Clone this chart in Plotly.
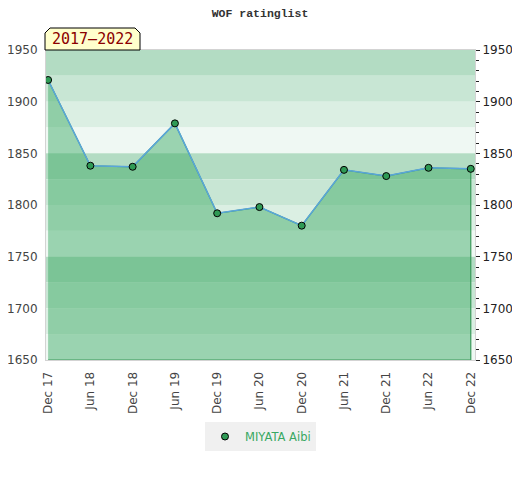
import plotly.graph_objects as go

categories = ["Dec 17", "Jun 18", "Dec 18", "Jun 19", "Dec 19", "Jun 20",
              "Dec 20", "Jun 21", "Dec 21", "Jun 22", "Dec 22"]
ratings = [1921, 1838, 1837, 1879, 1792, 1798, 1780, 1834, 1828, 1836, 1835]
player = "MIYATA Aibi"
period = "2017\u20132022"
title = "WOF ratinglist"

y_min, y_max = 1650, 1950
band_step = 25
band_colors = ["#b3dcc3", "#c8e6d4", "#dbefe3", "#eff8f3"]

fig = go.Figure()

# background bands
shapes = []
n_bands = (y_max - y_min) // band_step
for i in range(n_bands):
    top = y_max - i * band_step
    shapes.append(dict(type="rect", xref="paper", yref="y", x0=0, x1=1,
                       y0=top - band_step, y1=top, layer="below",
                       line=dict(width=0), fillcolor=band_colors[i % 4]))

# fill polygon
fx = categories + [categories[-1], categories[0]]
fy = ratings + [y_min, y_min]
fig.add_trace(go.Scatter(x=fx, y=fy, mode="lines", fill="toself",
                         fillcolor="rgba(59,169,99,0.47)",
                         line=dict(color="#3a9a5a", width=1.2),
                         showlegend=False, hoverinfo="skip"))
fig.add_trace(go.Scatter(x=categories, y=ratings, mode="lines",
                         line=dict(color="#5aa5dc", width=1.5),
                         showlegend=False, hoverinfo="skip"))
fig.add_trace(go.Scatter(x=categories, y=ratings, mode="markers",
                         name=player,
                         marker=dict(size=7, color="#2f9a55",
                                     line=dict(color="black", width=1))))
# invisible trace for right axis
fig.add_trace(go.Scatter(x=categories, y=ratings, yaxis="y2", mode="lines",
                         line=dict(width=0), showlegend=False, hoverinfo="skip",
                         opacity=0))

# label box
W, H = 429.0, 310.0
x0, x1 = -1 / W, 94 / W
y0, y1 = 1.0, 1 + 22 / H
cx, cy = 5 / W, 5 / H
shapes.append(dict(type="path", xref="paper", yref="paper",
                   path=f"M {x0},{y0} L {x0},{y1-cy} L {x0+cx},{y1} L {x1-cx},{y1} L {x1},{y1-cy} L {x1},{y0} Z",
                   fillcolor="#ffffcc", line=dict(color="black", width=1)))

fig.update_layout(
    width=504, height=464,
    margin=dict(l=38, r=37, t=42, b=112),
    paper_bgcolor="white", plot_bgcolor="white",
    title=dict(text=f"<b>{title}</b>", x=0.5, xanchor="center",
               y=1 - 5 / 464, yanchor="middle",
               font=dict(family="Liberation Mono", size=11.5, color="#333"),
               automargin=False),
    shapes=shapes,
    annotations=[dict(text=period, xref="paper", yref="paper",
                      x=(x0 + x1) / 2, y=(y0 + y1) / 2, showarrow=False,
                      xanchor="center", yanchor="middle",
                      font=dict(family="DejaVu Sans Mono", size=15, color="#8b0000"))],
    xaxis=dict(type="category", range=[-0.05, 10.1], tickangle=-90, automargin=False,
               showgrid=False, ticks="", showline=True, linecolor="#d3d3d3",
               mirror=True, ticklabelstandoff=6,
               tickfont=dict(family="DejaVu Sans", size=12, color="#444")),
    yaxis=dict(range=[y_min, y_max], dtick=50, showgrid=False, ticks="", automargin=False,
               showline=True, linecolor="#d3d3d3", mirror=True, zeroline=False,
               ticklabelstandoff=5,
               tickfont=dict(family="DejaVu Sans", size=12, color="#444")),
    yaxis2=dict(range=[y_min, y_max], dtick=50, overlaying="y", side="right",
                showgrid=False, ticks="outside", ticklen=4, tickcolor="#222",
                zeroline=False, automargin=False,
                minor=dict(dtick=10, ticks="outside", ticklen=3, tickcolor="#222"),
                tickfont=dict(family="DejaVu Sans", size=12, color="#222")),
    legend=dict(orientation="h", x=0.5, xanchor="center", y=-0.2, yanchor="top",
                bgcolor="#f0f0f0", font=dict(family="DejaVu Sans", size=11.5, color="#38a862"),
                itemwidth=30, tracegroupgap=0),
    showlegend=True,
)

fig.write_html("out.html")
